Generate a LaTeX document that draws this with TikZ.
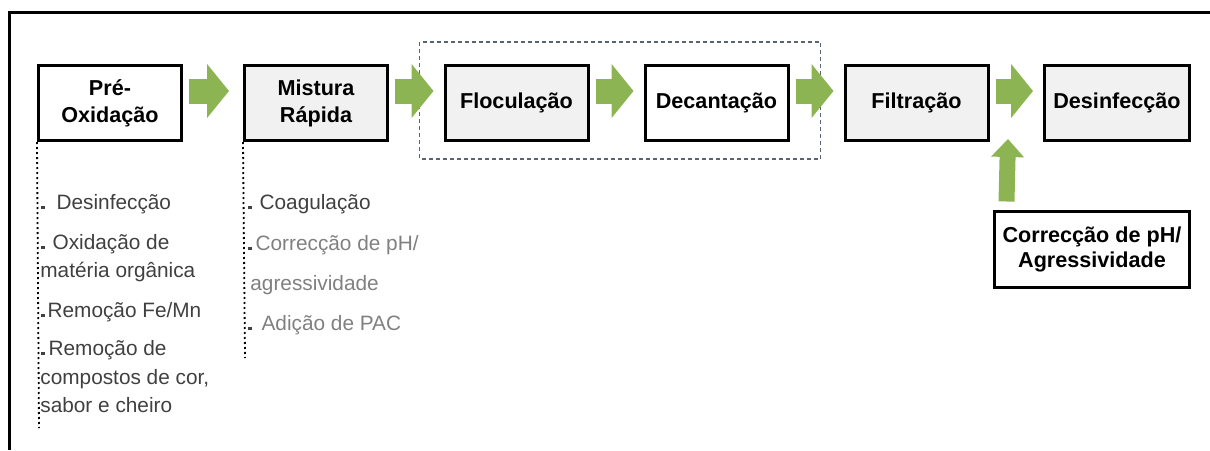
\documentclass[tikz,border=0pt]{standalone}
\usepackage{fontspec}
\setmainfont{Liberation Sans}
\usetikzlibrary{arrows.meta}
\definecolor{arrowgreen}{RGB}{141,180,83}
\definecolor{boxgray}{RGB}{241,241,241}
\definecolor{notedark}{RGB}{64,64,64}
\definecolor{notelight}{RGB}{128,128,128}
\definecolor{groupline}{RGB}{90,100,115}
\begin{document}
\begin{tikzpicture}[x=0.5pt,y=-0.5pt]
\tikzstyle{stage}=[draw,line width=1.5pt,minimum width=71.5pt,minimum height=37.5pt,inner sep=2pt,align=center,font=\fontsize{10.8}{13.5}\selectfont\bfseries]
\tikzstyle{shaded}=[stage,fill=boxgray]
\tikzstyle{flow}=[draw=arrowgreen,line width=12.5pt,-{Triangle[length=11pt,width=26.5pt]},shorten <=3pt,shorten >=5pt]
\tikzstyle{upflow}=[draw=arrowgreen,line width=8pt,-{Triangle[length=9pt,width=16pt]}]
\tikzstyle{note}=[anchor=base west,inner sep=0pt,font=\fontsize{10.4}{12}\selectfont,text=notedark]
\tikzstyle{dim}=[note,text=notelight]
\useasboundingbox (0,0) rectangle (1210,450);
\draw[line width=1.5pt] (9,450) -- (9,12) -- (1210,12);

\path (110,103) node[stage](pre){Pré-\\Oxidação} (316,103) node[shaded](mist){Mistura\\Rápida};
\path (516.5,103) node[shaded](floc){Floculação} (716.5,103) node[stage](dec){Decantação};
\path (916.5,103) node[shaded](filt){Filtração} (1117,103) node[shaded,minimum width=72.5pt](des){Desinfecção};
\path (1092,249.5) node[stage,minimum width=97.5pt,minimum height=38pt,font=\fontsize{10.8}{12.5}\selectfont\bfseries](corr){Correcção de pH/\\Agressividade};
\draw[groupline,line width=0.6pt,dash pattern=on 2pt off 1.5pt] ([xshift=-12pt,yshift=11pt]floc.north west) rectangle ([xshift=15.5pt,yshift=-8.5pt]dec.south east);

\draw[flow,shorten >=7pt] ([yshift=6pt]pre.east) -- ([yshift=6pt]mist.west);
\draw[flow] ([yshift=6pt]mist.east) -- ([yshift=6pt]floc.west);
\draw[flow] ([yshift=6pt]floc.east) -- ([yshift=6pt]dec.west);
\draw[flow] ([yshift=6pt]dec.east) -- ([yshift=6pt]filt.west);
\draw[flow] ([yshift=6pt]filt.east) -- ([yshift=6pt]des.west);
\coordinate (corrtip) at (1008,139);
\draw[upflow] ([xshift=6.75pt,yshift=4.25pt]corr.north west) -- (corrtip);

% notes under the first two stages
\coordinate (preend) at (39,428);
\coordinate (mistend) at (245,358);
\draw[line width=0.9pt,dash pattern=on 1pt off 1.5pt] (pre.south west) -- (preend);
\draw[line width=0.9pt,dash pattern=on 1pt off 1.5pt] (mist.south west) -- (mistend);

\path (41,209) node[note](n1){\rule{1.6pt}{1.6pt}\hspace{6pt}Desinfecção};
\path (41,249) node[note](n2){\rule{1.6pt}{1.6pt}\hspace{4pt}Oxidação de};
\path (40,277) node[note](n3){matéria orgânica};
\path (41,317) node[note](n4){\rule{1.6pt}{1.6pt}\hspace{1.5pt}Remoção Fe/Mn};
\path (41,355) node[note](n5){\rule{1.6pt}{1.6pt}\hspace{2pt}Remoção de};
\path (40,384) node[note](n6){compostos de cor,};
\path (40,412) node[note](n7){sabor e cheiro};

\path (248,209) node[note](m1){\rule{1.6pt}{1.6pt}\hspace{4pt}Coagulação};
\path (248,250) node[dim](m2){\textcolor{notedark}{\rule{1.6pt}{1.6pt}}\hspace{2pt}Correcção de pH/};
\path (250,290) node[dim](m3){agressividade};
\path (248,330) node[dim](m4){\textcolor{notedark}{\rule{1.6pt}{1.6pt}}\hspace{5pt}Adição de PAC};
\end{tikzpicture}
\end{document}
